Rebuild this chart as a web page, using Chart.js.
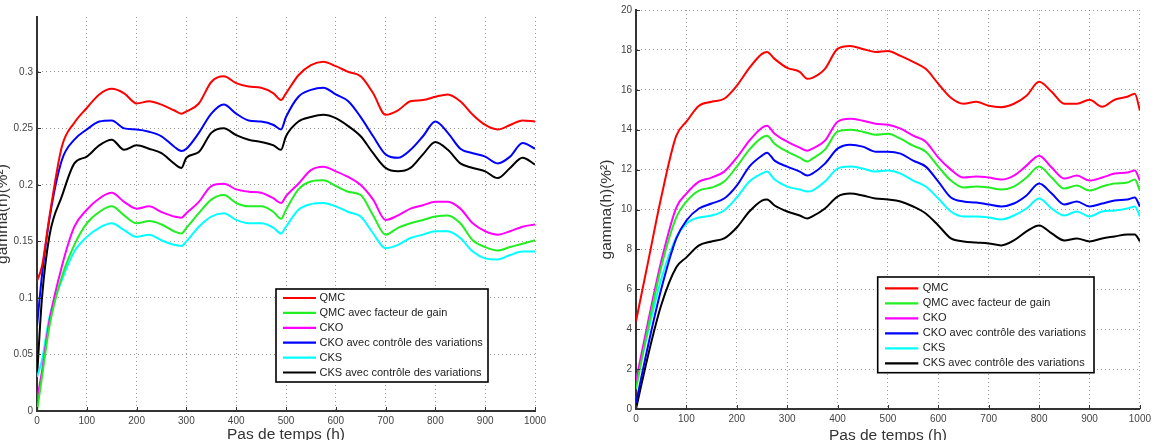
<!DOCTYPE html>
<html><head><meta charset="utf-8">
<script src="https://cdn.jsdelivr.net/npm/chart.js@4/dist/chart.umd.min.js"></script>
<style>
html,body{margin:0;padding:0;background:#fff;}
#wrap{position:relative;width:1155px;height:440px;overflow:hidden;background:#fff;}
canvas{position:absolute;top:0;display:block;}
</style></head><body>
<div id="wrap">
<canvas id="c1" width="575" height="440" style="left:0"></canvas>
<canvas id="c2" width="580" height="440" style="left:575px"></canvas>
</div>
<script>
// ---------- shared ----------
const seriesNames = ["QMC", "QMC avec facteur de gain", "CKO", "CKO avec contrôle des variations", "CKS", "CKS avec contrôle des variations"];
const seriesColors = ["#ff0000", "#22ee22", "#ff00ff", "#0000ff", "#00ffff", "#000000"];
const xTickValues = [0, 100, 200, 300, 400, 500, 600, 700, 800, 900, 1000];
const xTitle = "Pas de temps (h)";
const yTitle = "gamma(h)(%²)";

// ---------- left chart ----------
const leftTime = [0,10,25,50,75,100,125,150,175,200,225,250,275,290,300,325,350,375,400,425,450,475,490,500,525,550,575,600,625,650,675,700,725,750,775,800,825,850,875,900,925,950,975,1000];
const leftQMC = [0.115,0.128,0.172,0.234,0.255,0.268,0.280,0.285,0.281,0.272,0.274,0.271,0.266,0.263,0.265,0.272,0.291,0.296,0.290,0.287,0.286,0.281,0.275,0.281,0.297,0.306,0.309,0.305,0.300,0.296,0.281,0.262,0.266,0.274,0.275,0.278,0.280,0.274,0.262,0.253,0.249,0.253,0.257,0.256];
const leftQMCGain = [0.0,0.03,0.075,0.119,0.147,0.166,0.176,0.181,0.173,0.166,0.168,0.165,0.159,0.157,0.162,0.175,0.187,0.191,0.184,0.181,0.181,0.176,0.170,0.178,0.196,0.203,0.204,0.199,0.194,0.191,0.173,0.156,0.162,0.166,0.169,0.172,0.173,0.166,0.151,0.145,0.142,0.145,0.148,0.151];
const leftCKO = [0.01,0.035,0.08,0.128,0.163,0.178,0.188,0.193,0.185,0.179,0.181,0.176,0.172,0.171,0.175,0.185,0.199,0.201,0.196,0.194,0.193,0.188,0.184,0.190,0.201,0.213,0.216,0.212,0.207,0.200,0.187,0.169,0.173,0.179,0.182,0.185,0.185,0.179,0.166,0.159,0.156,0.159,0.163,0.165];
const leftCKOCtrl = [0.075,0.12,0.17,0.222,0.240,0.249,0.256,0.257,0.250,0.249,0.247,0.243,0.234,0.230,0.232,0.246,0.263,0.271,0.263,0.257,0.256,0.253,0.249,0.260,0.278,0.284,0.286,0.280,0.274,0.260,0.243,0.227,0.224,0.231,0.243,0.256,0.246,0.232,0.228,0.225,0.219,0.225,0.237,0.232];
const leftCKS = [0.03,0.045,0.083,0.116,0.141,0.154,0.162,0.166,0.160,0.154,0.156,0.151,0.147,0.146,0.150,0.163,0.172,0.175,0.169,0.166,0.166,0.162,0.157,0.163,0.178,0.183,0.184,0.181,0.176,0.172,0.157,0.144,0.147,0.153,0.156,0.159,0.159,0.153,0.141,0.135,0.134,0.138,0.141,0.141];
const leftCKSCtrl = [0.03,0.10,0.155,0.19,0.219,0.225,0.235,0.240,0.231,0.235,0.232,0.228,0.219,0.215,0.224,0.229,0.246,0.250,0.244,0.240,0.238,0.235,0.231,0.243,0.256,0.260,0.262,0.259,0.252,0.243,0.228,0.215,0.212,0.215,0.227,0.238,0.231,0.219,0.215,0.212,0.206,0.215,0.224,0.218];
const leftYTicks = [0, 0.05, 0.1, 0.15, 0.2, 0.25, 0.3];
const leftYLabels = ["0", "0.05", "0.1", "0.15", "0.2", "0.25", "0.3"];
const leftYMax = 0.3485;

// ---------- right chart ----------
const rightTime = [0,25,50,80,100,125,150,175,200,225,250,260,275,300,325,340,350,375,400,425,450,475,500,525,550,575,600,625,650,675,700,725,750,775,800,825,850,875,900,925,950,975,990,1000];
const rightQMC = [4.4,7.5,10.6,13.7,14.4,15.2,15.4,15.55,16.2,17.1,17.8,17.9,17.55,17.1,16.9,16.55,16.6,17.05,18.05,18.2,18.05,17.9,17.95,17.7,17.4,17.05,16.3,15.6,15.3,15.4,15.2,15.13,15.3,15.7,16.4,15.9,15.3,15.3,15.5,15.15,15.5,15.65,15.8,14.97];
const rightQMCGain = [1.0,4.2,7.1,9.6,10.4,10.95,11.1,11.4,12.15,13.0,13.6,13.7,13.3,12.9,12.6,12.4,12.55,13.0,13.9,14.0,13.9,13.75,13.8,13.55,13.2,12.9,12.15,11.45,11.1,11.15,11.1,11.0,11.15,11.6,12.15,11.6,11.05,11.2,10.95,11.15,11.3,11.35,11.5,10.95];
const rightCKO = [1.4,4.5,7.4,10.1,10.8,11.4,11.6,11.9,12.6,13.45,14.1,14.2,13.8,13.4,13.1,12.95,13.05,13.45,14.4,14.55,14.45,14.3,14.25,14.05,13.7,13.4,12.6,12.0,11.6,11.65,11.6,11.5,11.7,12.2,12.7,12.1,11.55,11.7,11.45,11.6,11.8,11.85,11.95,11.45];
const rightCKOCtrl = [0.3,3.3,6.0,8.55,9.45,10.05,10.3,10.55,11.2,12.15,12.7,12.85,12.45,12.15,11.9,11.7,11.8,12.3,13.05,13.25,13.15,12.9,12.9,12.8,12.45,12.15,11.4,10.6,10.4,10.35,10.25,10.15,10.3,10.7,11.3,10.8,10.25,10.4,10.15,10.3,10.45,10.5,10.6,10.15];
const rightCKS = [1.4,4.0,6.5,8.6,9.3,9.6,9.7,9.95,10.6,11.4,11.8,11.9,11.5,11.15,11.0,10.9,10.95,11.4,12.05,12.15,12.05,11.9,11.95,11.8,11.45,11.15,10.55,9.9,9.65,9.65,9.6,9.5,9.7,10.05,10.55,10.05,9.7,9.9,9.65,9.9,9.95,10.05,10.15,9.65];
const rightCKSCtrl = [0.0,2.8,5.2,7.1,7.6,8.2,8.4,8.55,9.1,9.9,10.45,10.5,10.2,9.9,9.7,9.55,9.65,10.05,10.65,10.8,10.7,10.55,10.5,10.4,10.15,9.8,9.2,8.55,8.4,8.35,8.3,8.2,8.45,8.9,9.2,8.8,8.45,8.55,8.4,8.55,8.65,8.75,8.75,8.4];
const rightYTicks = [0, 2, 4, 6, 8, 10, 12, 14, 16, 18, 20];
const rightYLabels = ["0", "2", "4", "6", "8", "10", "12", "14", "16", "18", "20"];
const rightYMax = 20;

const FONT = '"Liberation Sans", Arial, Helvetica, sans-serif';

function makeDatasets(time, arrays) {
  return arrays.map((arr, i) => ({
    label: seriesNames[i],
    data: time.map((t, j) => ({x: t, y: arr[j]})),
    borderColor: seriesColors[i],
    backgroundColor: seriesColors[i],
    borderWidth: 2,
    pointRadius: 0,
    cubicInterpolationMode: 'monotone',
    fill: false
  }));
}

const boxLegend = {
  id: 'boxLegend',
  afterDatasetsDraw(chart, args, o) {
    const ctx = chart.ctx;
    ctx.save();
    ctx.fillStyle = '#fff';
    ctx.fillRect(o.x, o.y, o.w, o.h);
    ctx.strokeStyle = '#000';
    ctx.lineWidth = 1.6;
    ctx.strokeRect(o.x, o.y, o.w, o.h);
    ctx.font = '11px ' + FONT;
    ctx.textBaseline = 'middle';
    chart.data.datasets.forEach((ds, i) => {
      const yy = o.row0 + i * o.rowH;
      ctx.strokeStyle = ds.borderColor;
      ctx.lineWidth = 2.2;
      ctx.beginPath(); ctx.moveTo(o.l1, yy); ctx.lineTo(o.l2, yy); ctx.stroke();
      ctx.fillStyle = '#222';
      ctx.fillText(ds.label, o.tx, yy);
    });
    ctx.restore();
  }
};

const inwardTicks = {
  id: 'inwardTicks',
  afterDraw(chart) {
    const ctx = chart.ctx, a = chart.chartArea;
    const xs = chart.scales.x, ys = chart.scales.y;
    ctx.save();
    ctx.strokeStyle = '#333'; ctx.lineWidth = 1;
    ctx.beginPath();
    xs.ticks.forEach(t => { const px = Math.round(xs.getPixelForValue(t.value)) + 0.5; ctx.moveTo(px, a.bottom); ctx.lineTo(px, a.bottom - 4); });
    ys.ticks.forEach(t => { const py = Math.round(ys.getPixelForValue(t.value)) + 0.5; ctx.moveTo(a.left, py); ctx.lineTo(a.left + 4, py); });
    ctx.stroke();
    ctx.restore();
  }
};

function makeChart(id, time, arrays, yTicks, yLabels, yMax, geo, legendPos) {
  return new Chart(document.getElementById(id), {
    type: 'line',
    data: { datasets: makeDatasets(time, arrays) },
    plugins: [boxLegend, inwardTicks],
    options: {
      responsive: false,
      animation: false,
      events: [],
      layout: { padding: { left: 0, right: geo.padRight, top: geo.padTop, bottom: 0 } },
      plugins: { legend: { display: false }, tooltip: { enabled: false }, boxLegend: legendPos },
      scales: {
        x: {
          type: 'linear', min: 0, max: 1000,
          afterBuildTicks: s => { s.ticks = xTickValues.map(v => ({value: v})); },
          afterFit: s => { s.height = geo.xHeight; },
          ticks: { color: '#444', font: { size: 10, family: FONT }, padding: 4, maxRotation: 0, autoSkip: false, callback: v => String(v) },
          grid: { color: 'rgba(60,60,60,0.5)', lineWidth: 1, drawTicks: false },
          border: { display: true, color: '#333', width: 2, dash: [1, 3] },
          title: { display: true, text: xTitle, color: '#333', font: { size: 15.5, family: FONT }, padding: { top: 0, bottom: geo.xTitlePad } }
        },
        y: {
          type: 'linear', min: 0, max: yMax,
          afterBuildTicks: s => { s.ticks = yTicks.map(v => ({value: v})); },
          afterFit: s => { s.width = geo.yWidth; },
          ticks: { color: '#444', font: { size: 10, family: FONT }, padding: 4, autoSkip: false, callback: (v, i) => yLabels[i] },
          grid: { color: 'rgba(60,60,60,0.5)', lineWidth: 1, drawTicks: false },
          border: { display: true, color: '#333', width: 2, dash: [1, 3] },
          title: { display: true, text: yTitle, color: '#333', font: { size: 15.5, family: FONT }, padding: { top: geo.yTitlePad, bottom: 0 } }
        }
      }
    }
  });
}

makeChart('c1', leftTime, [leftQMC, leftQMCGain, leftCKO, leftCKOCtrl, leftCKS, leftCKSCtrl], leftYTicks, leftYLabels, leftYMax,
  { padRight: 40, padTop: 17, xHeight: 29, yWidth: 37, xTitlePad: -3.6, yTitlePad: -6.5 },
  { x: 276, y: 289, w: 212, h: 93, row0: 298, rowH: 14.9, l1: 283, l2: 316, tx: 319.5 });

makeChart('c2', rightTime, [rightQMC, rightQMCGain, rightCKO, rightCKOCtrl, rightCKS, rightCKSCtrl], rightYTicks, rightYLabels, rightYMax,
  { padRight: 13, padTop: 9, xHeight: 31, yWidth: 61, xTitlePad: -4.6, yTitlePad: 22 },
  { x: 302.7, y: 277, w: 216.3, h: 95.7, row0: 288.3, rowH: 15, l1: 310, l2: 343.3, tx: 347.7 });
</script>
</body></html>
